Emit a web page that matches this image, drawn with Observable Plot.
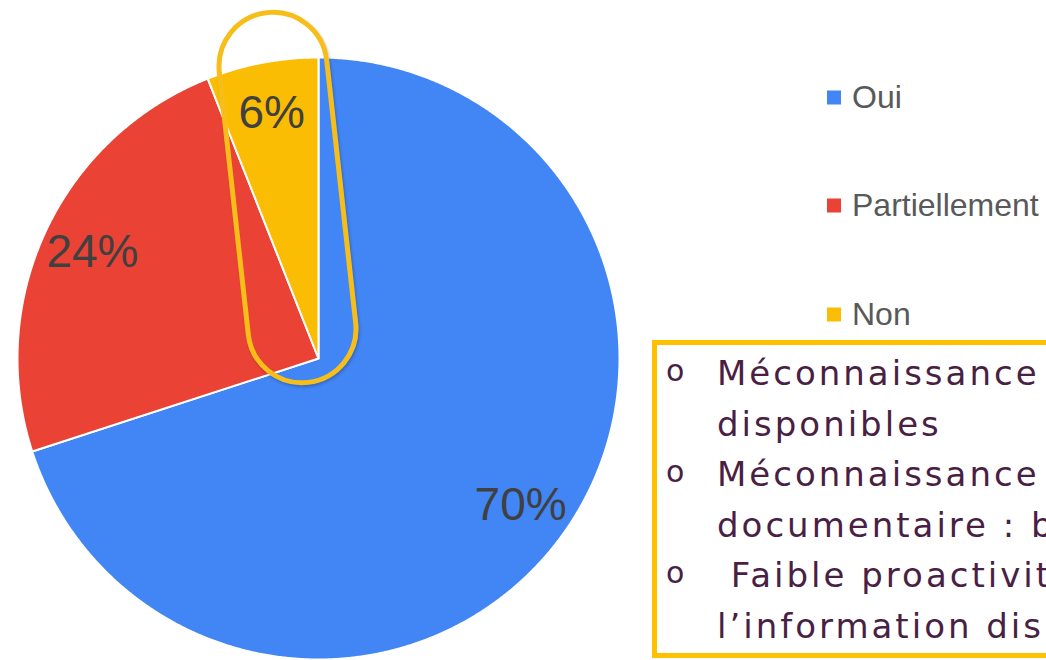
<!DOCTYPE html>
<html>
<head>
<meta charset="utf-8">
<script src="https://cdn.jsdelivr.net/npm/d3@7"></script>
<script src="https://cdn.jsdelivr.net/npm/@observablehq/plot@0.6"></script>
<style>
  html, body { margin: 0; padding: 0; background: #fff; overflow: hidden; width: 1046px; height: 660px; }
  #wrap { position: relative; width: 1046px; height: 660px; overflow: hidden; }
  #chart { position: absolute; left: 0; top: 0; }
  .clip { position: absolute; left: 231px; top: 9px; width: 103px; height: 367px;
          border: 5px solid #F7BE1A; border-radius: 57px; transform: rotate(-6.3deg);
          box-shadow: 1px 2px 3px rgba(0,0,0,0.22); }
  #legend { position: absolute; left: 827px; top: 0; font-family: "Liberation Sans", Arial, sans-serif;
            font-size: 32px; color: #595959; }
  .lg { position: absolute; left: 0; display: flex; align-items: center; white-space: nowrap; transform: translateY(-50%); }
  .lg span.sw { display: inline-block; width: 14px; height: 14px; margin-right: 11px; }
  #box { position: absolute; left: 652px; top: 340px; width: 420px; height: 308px;
         border: 5px solid #FFC000; background: #fff; font-family: "DejaVu Sans", sans-serif;
         color: #4A1F44; font-size: 34px; line-height: 50.6px; }
  #box ul { list-style: none; margin: 3px 0 0 0; padding: 0; }
  #box li { position: relative; padding-left: 60px; white-space: pre; letter-spacing: 3px; }
  #box li .b { position: absolute; left: 9px; top: -2px; font-size: 30px; letter-spacing: 0; }
</style>
</head>
<body>
<div id="wrap">
  <div id="chart"></div>
  <div class="clip"></div>
  <div id="legend"></div>
  <div id="box"></div>
</div>
<script>
const categories = ["Oui", "Partiellement", "Non"];
const values = [70, 24, 6];
const labels = ["70%", "24%", "6%"];
const colors = ["#4285F4", "#EA4335", "#FBBC04"];
const bullets = [
  ["Méconnaissance des outils", "disponibles"],
  ["Méconnaissance du fonds", "documentaire : base"],
  [" Faible proactivité dans", "l’information disponible"]
];

const table = categories.map((c, i) => ({category: c, value: values[i], label: labels[i]}));
const arcs = d3.pie().sort(null).value(d => d.value)(table);

// polygon points for each wedge (angles from 12 o'clock, clockwise)
const wedgePts = [];
arcs.forEach(a => {
  wedgePts.push({category: a.data.category, x: 0, y: 0});
  const n = Math.max(2, Math.ceil((a.endAngle - a.startAngle) / 0.005));
  for (let k = 0; k <= n; k++) {
    const t = a.startAngle + (a.endAngle - a.startAngle) * k / n;
    wedgePts.push({category: a.data.category, x: Math.sin(t), y: Math.cos(t)});
  }
});
const labelPts = arcs.map(a => {
  const m = (a.startAngle + a.endAngle) / 2;
  const r = 0.83;
  return {label: a.data.label, x: r * Math.sin(m), y: r * Math.cos(m)};
});

const plot = Plot.plot({
  width: 1046,
  height: 660,
  margin: 0,
  x: {domain: [-1, 1], range: [17, 619], axis: null},
  y: {domain: [-1, 1], range: [659, 57], axis: null},
  color: {domain: categories, range: colors},
  style: {background: "transparent", overflow: "visible"},
  marks: [
    Plot.line(wedgePts, {x: "x", y: "y", z: "category", fill: "category", stroke: "white", strokeWidth: 2, curve: "linear-closed", strokeLinejoin: "round"}),
    Plot.text(labelPts, {x: "x", y: "y", text: "label", fill: "#404040", fontSize: 46, fontFamily: "Liberation Sans, Arial, sans-serif", textAnchor: "middle", lineAnchor: "middle"})
  ]
});
document.getElementById("chart").appendChild(plot);

// legend
const legendY = [97, 205, 314];
const legend = document.getElementById("legend");
categories.forEach((c, i) => {
  const row = document.createElement("div");
  row.className = "lg";
  row.style.top = legendY[i] + "px";
  const sw = document.createElement("span");
  sw.className = "sw";
  sw.style.background = colors[i];
  row.appendChild(sw);
  row.appendChild(document.createTextNode(c));
  legend.appendChild(row);
});

// text box
const ul = document.createElement("ul");
bullets.forEach(lines => {
  lines.forEach((ln, j) => {
    const li = document.createElement("li");
    if (j === 0) {
      const b = document.createElement("span");
      b.className = "b";
      b.textContent = "o";
      li.appendChild(b);
    }
    li.appendChild(document.createTextNode(ln));
    ul.appendChild(li);
  });
});
document.getElementById("box").appendChild(ul);
</script>
</body>
</html>
